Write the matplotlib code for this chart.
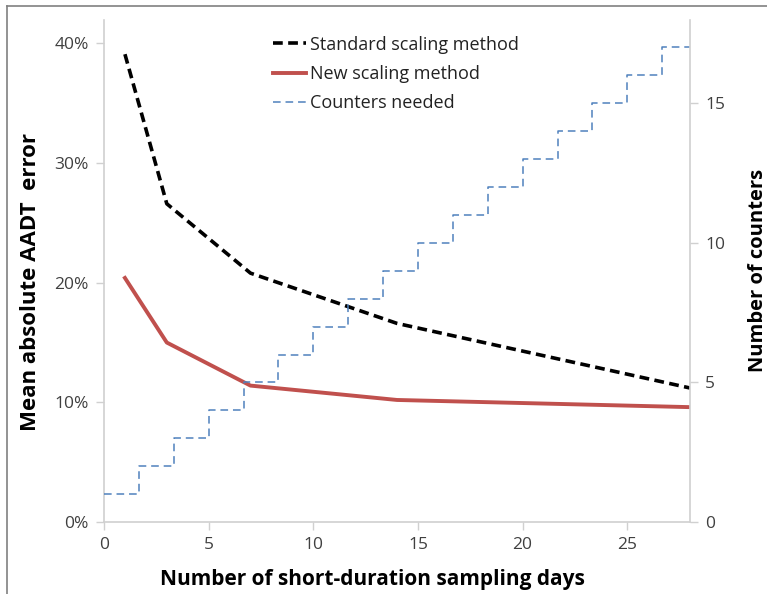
import matplotlib
matplotlib.use("Agg")
import matplotlib.pyplot as plt
from matplotlib.lines import Line2D
from matplotlib.ticker import FuncFormatter

# ---- data ----
days = [1, 3, 7, 14, 28]
standard_error = [0.391, 0.266, 0.208, 0.166, 0.112]
new_error = [0.204, 0.150, 0.114, 0.102, 0.096]

counter_step_days = [0, 1.67, 3.33, 5, 6.67, 8.33, 10, 11.67, 13.33, 15,
                     16.67, 18.33, 20, 21.67, 23.33, 25, 26.67, 28]
counters_needed = [1, 2, 3, 4, 5, 6, 7, 8, 9, 10, 11, 12, 13, 14, 15, 16, 17, 17]

x_ticks = [0, 5, 10, 15, 20, 25]
left_ticks = [0, 0.1, 0.2, 0.3, 0.4]
right_ticks = [0, 5, 10, 15]

plt.rcParams['font.family'] = ['Open Sans', 'DejaVu Sans']

W, H = 767, 594
fig = plt.figure(figsize=(W / 100, H / 100), dpi=100)
ax_h = (522 - 19.5) / H
ax_w = (690 - 104) / W
ax = fig.add_axes([104 / W, 1 - 522 / H, ax_w, ax_h])
ax2 = ax.twinx()

spine_col = '#d0d0d0'
tick_col = '#404040'

ax.plot(days, standard_error, color='black', lw=2.6, linestyle=(0, (2.7, 1.5)),
        label='Standard scaling method', zorder=3)
ax.plot(days, new_error, color='#C0504D', lw=2.8, label='New scaling method', zorder=3)
ax2.plot(counter_step_days, counters_needed, drawstyle='steps-post', color='#4F81BD',
         lw=1.1, linestyle=(0, (5, 3.2)), label='Counters needed')

ax.set_xlim(0, 28)
ax.set_ylim(0, 0.42)
ax2.set_ylim(0, 18)
ax.set_xticks(x_ticks)
ax.set_yticks(left_ticks)
ax2.set_yticks(right_ticks)
ax.yaxis.set_major_formatter(FuncFormatter(lambda v, p: f"{v * 100:.0f}%"))

for a in (ax, ax2):
    for s in a.spines.values():
        s.set_color(spine_col)
        s.set_linewidth(1.2)
    a.spines['top'].set_visible(False)
    a.tick_params(colors=spine_col, labelcolor=tick_col, labelsize=12.5,
                  length=6, width=1.0, direction='out', pad=5)
ax.spines['right'].set_visible(False)
ax2.spines['left'].set_visible(False)
ax2.spines['bottom'].set_visible(False)

ax.set_xlabel('Number of short-duration sampling days', fontsize=15,
              fontweight='bold')
ax.xaxis.set_label_coords(0.458, -(569 - 522) / (522 - 19.5))
ax.set_ylabel('Mean absolute AADT  error', fontsize=16, fontweight='bold')
ax.yaxis.set_label_coords((41 - 104) / 586, 0.478)
ax2.set_ylabel('Number of counters', fontsize=14.5, fontweight='bold', rotation=90)
ax2.yaxis.set_label_coords((748 - 104) / 586, 0.5)

h1, l1 = ax.get_legend_handles_labels()
h2, l2 = ax2.get_legend_handles_labels()
leg = ax.legend(h1 + h2, l1 + l2, loc='upper left', bbox_to_anchor=(0.26, 1.0),
                frameon=False, fontsize=13, handlelength=1.85, handletextpad=0.2,
                labelspacing=0.62, labelcolor='#222222')

# chart border (top and left visible)
fig.add_artist(Line2D([7 / W, 1], [1 - 6 / H, 1 - 6 / H], color='#808080', lw=1.2,
                      transform=fig.transFigure))
fig.add_artist(Line2D([7 / W, 7 / W], [0, 1 - 6 / H], color='#808080', lw=1.2,
                      transform=fig.transFigure))

fig.savefig('out.png', dpi=100)
